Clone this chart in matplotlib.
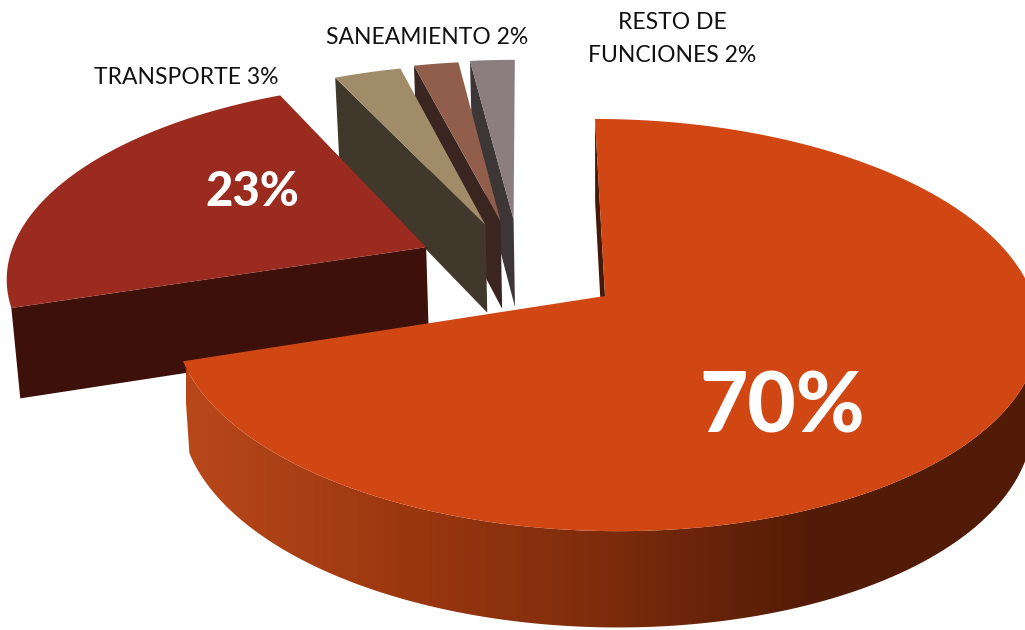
import numpy as np
import matplotlib
matplotlib.use("Agg")
import matplotlib.pyplot as plt
from matplotlib.patches import Polygon
from matplotlib.colors import LinearSegmentedColormap

# ---- data
shares = [70, 23, 3, 2, 2]
pct_labels = ["70%", "23%", None, None, None]
side_labels = ["TRANSPORTE 3%", "SANEAMIENTO 2%", "RESTO DE\nFUNCIONES 2%"]

# ---- style / layout
top_colors = ["#D04714", "#9A2B1E", "#A08C68", "#925E4C", "#8C7E80"]
wall_colors = ["#461808", "#3E100A", "#40382A", "#3A2520", "#3C3636"]
explode_u = [0.0, -0.426, -0.284, -0.247, -0.215]
explode_v = [0.0, -0.25, -0.37, -0.39, -0.40]
X0, Y0, CX, CY, SKEW, PERSP = 605, 296, 428, 202, 11.4, 0.141
H, HK, CONV = 90, 0.07, 0.015
WALL_FROM = 75  # degrees clockwise from 12 o'clock where the outer wall comes into view

plt.rcParams["font.family"] = ["Lato", "DejaVu Sans"]
fig = plt.figure(figsize=(10.25, 6.3), dpi=100)
ax = fig.add_axes([0, 0, 1, 1])


def project(u, v):
    d = 1 - PERSP * v
    return X0 + (CX * u + SKEW * v) / d, Y0 + CY * v / d


def lower(u, v):
    x, y = project(u, v)
    return x + (X0 - x) * CONV, y + H * (1 + HK * v)


def rim(a0, a1, ou, ov):
    t = np.radians(np.linspace(a0, a1, max(int(abs(a1 - a0) * 2), 2)))
    return np.sin(t) + ou, -np.cos(t) + ov


angles = np.concatenate([[0], np.cumsum(shares) / sum(shares) * 360])
wall_cmap = LinearSegmentedColormap.from_list(
    "wall", [(0.0, "#B8481A"), (0.25, "#9C3810"), (0.5, "#7C2C0C"),
             (0.75, "#521B07"), (1.0, "#521C07")])

for i in [4, 3, 2, 1, 0]:
    a0, a1 = angles[i], angles[i + 1]
    ou, ov = explode_u[i], explode_v[i]
    u, v = rim(a0, a1, ou, ov)
    # flat cut wall on the leading edge of the slice
    ax.fill(*zip(*[project(ou, ov), project(u[0], v[0]),
                   lower(u[0], v[0]), lower(ou, ov)]),
            color=wall_colors[i], lw=0, zorder=1)
    if i == 0:
        # curved outer wall, shaded by horizontal position
        uw, vw = rim(WALL_FROM, a1, ou, ov)
        tx, ty = project(uw, vw)
        lx, ly = lower(uw, vw)
        outline = np.vstack([np.column_stack([tx, ty]),
                             np.column_stack([lx, ly])[::-1]])
        clip = Polygon(outline, closed=True, transform=ax.transData,
                       fc="none", ec="none")
        im = ax.imshow(np.linspace(0, 1, 512)[None, :], cmap=wall_cmap,
                       extent=[186, 1030, 630, 300], aspect="auto",
                       vmin=0, vmax=1, zorder=1, interpolation="bilinear")
        im.set_clip_path(clip)
    px, py = project(np.r_[ou, u], np.r_[ov, v])
    ax.fill(px, py, color=top_colors[i], lw=0, zorder=1)

ax.set_xlim(0, 1025)
ax.set_ylim(630, 0)
ax.axis("off")

# text
ax.text(186, 77, side_labels[0], fontsize=16.5, ha="center", va="center", color="#111111")
ax.text(427, 37, side_labels[1], fontsize=16.5, ha="center", va="center", color="#111111")
ax.text(672, 39, side_labels[2], fontsize=16.5, ha="center", va="center", color="#111111",
        linespacing=1.72)
ax.text(252, 192, pct_labels[1], fontsize=34, fontweight=900, color="white",
        ha="center", va="center", zorder=5)
ax.text(782, 408, pct_labels[0], fontsize=60, fontweight=900, color="white",
        ha="center", va="center", zorder=5)

fig.savefig("out.png", dpi=100)
